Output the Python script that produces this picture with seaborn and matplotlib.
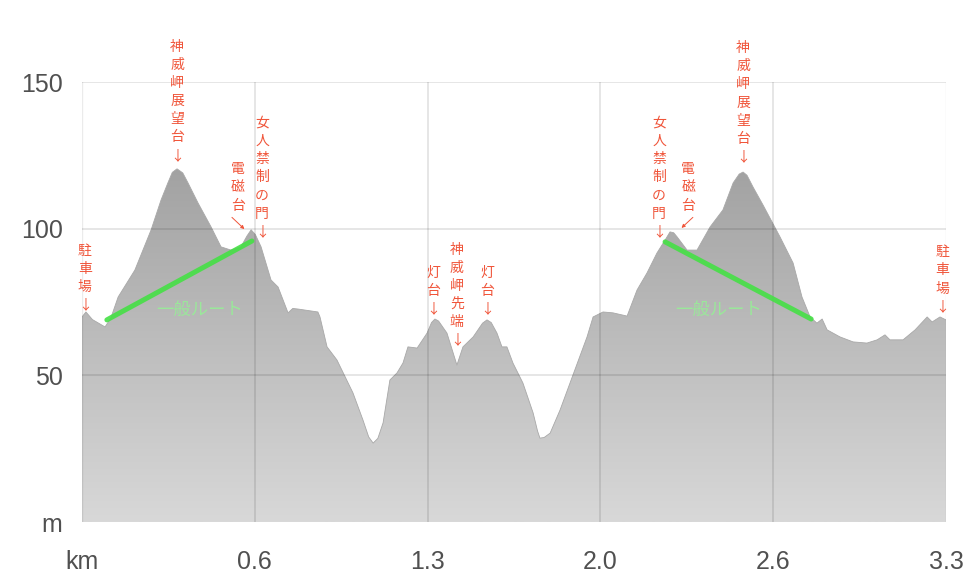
import matplotlib
matplotlib.use("Agg")
import matplotlib.pyplot as plt
import numpy as np
import pandas as pd
import seaborn as sns
from matplotlib.colors import LinearSegmentedColormap

# elevation profile (distance in km, elevation in m)
dist_km = [0.000, 0.015, 0.040, 0.088, 0.110, 0.138, 0.202, 0.264, 0.302, 0.328,
           0.345, 0.363, 0.385, 0.405, 0.443, 0.493, 0.531, 0.569, 0.607, 0.630,
           0.646, 0.662, 0.684, 0.722, 0.749, 0.787, 0.805, 0.825, 0.901, 0.909,
           0.936, 0.974, 1.035, 1.073, 1.095, 1.112, 1.130, 1.150, 1.176, 1.203,
           1.226, 1.245, 1.280, 1.318, 1.335, 1.348, 1.362, 1.394, 1.432, 1.455,
           1.494, 1.530, 1.547, 1.563, 1.585, 1.604, 1.623, 1.646, 1.684, 1.723,
           1.740, 1.749, 1.765, 1.788, 1.826, 1.864, 1.929, 1.952, 1.990, 2.028,
           2.082, 2.120, 2.158, 2.196, 2.227, 2.246, 2.260, 2.273, 2.311, 2.349,
           2.399, 2.448, 2.487, 2.510, 2.525, 2.540, 2.563, 2.601, 2.666, 2.716,
           2.750, 2.781, 2.807, 2.827, 2.846, 2.895, 2.945, 2.998, 3.037, 3.067,
           3.086, 3.136, 3.182, 3.228, 3.247, 3.277, 3.300]
elev_m = [69.9, 71.6, 69.0, 66.5, 69.5, 76.7, 85.9, 99.6, 109.8, 115.6,
          119.2, 120.4, 119.0, 115.6, 108.8, 100.6, 93.8, 92.7, 93.8, 97.5,
          99.6, 98.0, 93.8, 82.5, 80.1, 71.3, 72.8, 72.6, 71.6, 69.9,
          59.7, 55.2, 44.0, 34.8, 29.0, 26.9, 28.5, 33.8, 48.4, 50.8,
          54.2, 59.7, 59.3, 64.4, 68.0, 69.2, 68.5, 64.4, 53.5, 59.7,
          63.1, 67.8, 68.9, 68.0, 64.4, 59.7, 59.7, 54.2, 47.4, 37.2,
          31.0, 28.6, 28.8, 30.3, 38.2, 47.4, 63.1, 69.9, 71.6, 71.3,
          70.2, 79.1, 84.9, 91.7, 96.1, 98.9, 98.6, 97.2, 92.7, 92.7,
          100.6, 106.4, 115.6, 118.6, 119.3, 118.2, 114.2, 108.1, 97.2, 88.3,
          76.7, 69.9, 67.8, 69.2, 65.5, 63.1, 61.4, 61.0, 62.1, 63.8,
          62.1, 62.1, 65.5, 69.9, 68.2, 69.9, 68.9]

# "一般ルート" segments
route_left_km = [0.095, 0.649]
route_left_m = [68.9, 95.8]
route_right_km = [2.227, 2.785]
route_right_m = [95.5, 69.2]
route_label_km = [0.45, 2.43]
route_label_m = [72.3, 72.3]

# place names, label x position and height of the arrow tip
place_names = ["駐車場", "神威岬展望台", "女人禁制の門", "灯台", "神威岬先端", "灯台",
               "女人禁制の門", "神威岬展望台", "駐車場"]
place_km = [0.011, 0.363, 0.688, 1.341, 1.432, 1.547, 2.204, 2.525, 3.285]
place_m = [71.5, 122.5, 96.5, 70.3, 59.5, 70.3, 96.5, 122.0, 71.0]

# 電磁台 labels (text position and arrow end)
denji_km = [0.596, 2.315]
denji_m = [105.5, 105.5]
denji_tail_km = [0.565, 2.341]
denji_tail_m = [104.5, 104.5]
denji_head_km = [0.628, 2.282]
denji_head_m = [99.2, 99.6]

x_ticks = [0, 0.66, 1.32, 1.98, 2.64, 3.3]
x_labels = ["km", "0.6", "1.3", "2.0", "2.6", "3.3"]
y_ticks = [0, 50, 100, 150]
y_labels = ["m", "50", "100", "150"]

df = pd.DataFrame({"km": dist_km, "m": elev_m})

sns.set_theme(style="white")
plt.rcParams["font.family"] = ["Noto Sans CJK JP", "DejaVu Sans"]

fig = plt.figure(figsize=(9.74, 5.82), dpi=100)
ax = fig.add_axes([82 / 974, 60 / 582, 864 / 974, 440 / 582])

# gradient filled profile
poly = ax.fill_between(df["km"], df["m"], 0, color="none", lw=0)
grad_cmap = LinearSegmentedColormap.from_list("elev", ["#d8d8d8", "#959595"])
grad = np.linspace(0, 1, 256).reshape(-1, 1)
img = ax.imshow(grad, cmap=grad_cmap, origin="lower", aspect="auto",
                extent=[0, 3.3, 0, 150], zorder=1)
img.set_clip_path(poly.get_paths()[0], transform=ax.transData)
sns.lineplot(data=df, x="km", y="m", color="#a8a8a8", lw=0.6, ax=ax, zorder=1.5)

# grid drawn over the fill, semi transparent so it darkens on gray
for yv in y_ticks[1:]:
    ax.axhline(yv, color="black", alpha=0.13, lw=1.1, zorder=2)
for xv in x_ticks[1:-1]:
    ax.axvline(xv, color="black", alpha=0.13, lw=1.1, zorder=2)
ax.axvline(0, color="black", alpha=0.08, lw=1, zorder=2)
ax.axvline(3.3, color="black", alpha=0.08, lw=1, zorder=2)

# route lines
green = "#45e045"
for rk, rm in [(route_left_km, route_left_m), (route_right_km, route_right_m)]:
    sns.lineplot(x=rk, y=rm, color=green, lw=3.6, alpha=0.9, ax=ax, zorder=3)
for lk, lm in zip(route_label_km, route_label_m):
    ax.text(lk, lm, "一般ルート", color="#9ae89a", fontsize=12.5, ha="center",
            va="center", zorder=3)

red = "#f0553a"
for name, pk, pm in zip(place_names, place_km, place_m):
    ax.text(pk, pm, "\n".join(name) + "\n↓", color=red, fontsize=10,
            ha="center", va="bottom", multialignment="center",
            linespacing=1.38, clip_on=False, zorder=4)

for k, m, tk, tm, hk, hm in zip(denji_km, denji_m, denji_tail_km, denji_tail_m,
                                denji_head_km, denji_head_m):
    ax.text(k, m, "\n".join("電磁台"), color=red, fontsize=10, ha="center",
            va="bottom", linespacing=1.38, zorder=4)
    ax.annotate("", xy=(hk, hm), xytext=(tk, tm),
                arrowprops=dict(arrowstyle="-|>", color=red, lw=0.7,
                                mutation_scale=5), zorder=4)

ax.set_xlim(0, 3.3)
ax.set_ylim(0, 150)
ax.set_xticks(x_ticks)
ax.set_xticklabels(x_labels)
ax.set_yticks(y_ticks)
ax.set_yticklabels(y_labels)
ax.tick_params(axis="both", length=0, labelsize=18, labelcolor="#505050")
ax.tick_params(axis="x", pad=20)
ax.tick_params(axis="y", pad=14)
for lab in ax.get_xticklabels() + ax.get_yticklabels():
    lab.set_family(["Liberation Sans", "DejaVu Sans"])
ax.set_xlabel("")
ax.set_ylabel("")
for s in ax.spines.values():
    s.set_visible(False)

fig.savefig("out.png", dpi=100)
